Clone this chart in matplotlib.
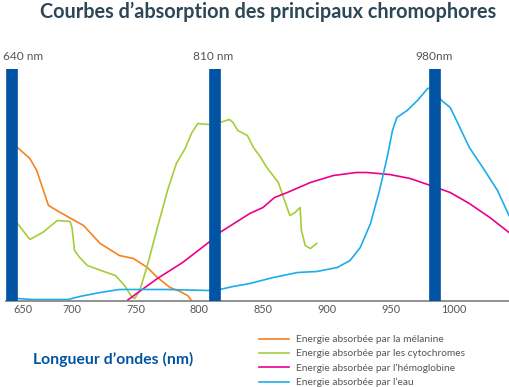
import numpy as np
import matplotlib
matplotlib.use('Agg')
from matplotlib import pyplot as plt

plt.rcParams['font.family'] = ['Lato', 'DejaVu Sans']

# longueurs d'onde (nm) et absorption (unites arbitraires)
melanine_nm = [645, 657, 664, 676, 688, 709, 722, 737, 748, 759, 767, 777, 785, 791, 794]
melanine_val = [153, 142, 130, 95, 88, 75, 57, 45, 42, 33, 23, 13, 9, 5, 0]

cyto_nm = [645, 657, 670, 685, 698, 700, 702, 706, 712, 727, 734, 741, 747, 749, 753, 759, 767,
           775, 782, 789, 794, 799, 806, 814, 822, 825, 829, 837, 842, 847, 853, 862, 866, 871,
           875, 879, 880, 883, 887, 892]
cyto_val = [77, 61, 68, 80, 79, 73, 50, 43, 35, 28, 25, 15, 3, 2, 10, 35, 73,
            110, 137, 152, 167, 177, 176, 178, 181, 178, 170, 165, 153, 145, 133, 118, 103, 85,
            88, 93, 70, 55, 52, 57]

hemo_nm = [743, 767, 787, 806, 814, 839, 850, 859, 869, 887, 905, 923, 931, 949, 963, 977,
           996, 1012, 1028, 1043]
hemo_val = [0, 22, 38, 58, 68, 87, 93, 103, 108, 118, 125, 128, 128, 126, 122, 115,
            108, 97, 83, 68]

eau_nm = [645, 660, 696, 706, 722, 737, 753, 775, 806, 814, 825, 839, 858, 877, 892, 908, 918,
          926, 934, 941, 947, 951, 954, 961, 968, 975, 978, 987, 996, 1002, 1012, 1023, 1034, 1043]
eau_val = [2, 1, 1, 4, 8, 11, 11, 11, 10, 11, 14, 17, 23, 28, 29, 33, 40,
           53, 77, 110, 143, 170, 183, 190, 200, 212, 213, 200, 193, 180, 153, 132, 110, 85]

lasers_nm = [640, 810, 980]
lasers_txt = ['640 nm', '810 nm', '980nm']
ticks_nm = [650, 700, 750, 800, 850, 900, 950, 1000]

# echelle de l'axe x (non lineaire sur le document d'origine)
cal_nm = [635, 640, 650, 700, 750, 800, 810, 850, 900, 950, 980, 1000, 1043]
cal_pos = [6, 12, 23, 72, 136, 199, 215, 263, 327, 391, 435, 454, 509]

def fwd(x):
    return np.interp(x, cal_nm, cal_pos)

def inv(p):
    return np.interp(p, cal_pos, cal_nm)

fig = plt.figure(figsize=(5.09, 3.87), dpi=100)
ax = fig.add_axes([6/509, 86.5/387, 503/509, 232/387])
ax.set_xscale('function', functions=(fwd, inv))

l1, = ax.plot(melanine_nm, melanine_val, color='#F5821F', lw=1.2, label='Energie absorbée par la mélanine')
l2, = ax.plot(cyto_nm, cyto_val, color='#A5CD39', lw=1.2, label='Energie absorbée par les cytochromes')
l3, = ax.plot(hemo_nm, hemo_val, color='#EC008C', lw=1.2, label="Energie absorbée par l’hémoglobine")
l4, = ax.plot(eau_nm, eau_val, color='#1CADE8', lw=1.2, label="Energie absorbée par l’eau")

ax.vlines(lasers_nm, 0, 232, colors='#0054A3', lw=8.4, zorder=5)
for x, t in zip(lasers_nm, lasers_txt):
    dx = 8.3 if x == 640 else -1
    ax.annotate(t, xy=(x, 232), xytext=(dx, 8.6), textcoords='offset points',
                ha='center', va='center', fontsize=8.6, color='#555555', annotation_clip=False)

ax.set_xlim(635, 1043)
ax.set_ylim(0, 232)
ax.set_xticks(ticks_nm)
ax.set_xticklabels([str(t) for t in ticks_nm])
ax.tick_params(axis='x', length=0, pad=2.5, labelsize=7.8, labelcolor='#555555')
ax.set_yticks([])
for s in ['top', 'left', 'right']:
    ax.spines[s].set_visible(False)
ax.spines['bottom'].set_color('#888888')
ax.spines['bottom'].set_linewidth(1.3)

fig.text(268/509, 1 - 12/387, 'Courbes d’absorption des principaux chromophores',
         ha='center', va='center', fontsize=14.3, fontweight='bold', color='#2E4756')
fig.text(33/509, 1 - 359/387, 'Longueur d’ondes (nm)', ha='left', va='center',
         fontsize=11.3, fontweight='bold', color='#0054A3')

fig.legend(handles=[l1, l2, l3, l4], loc='upper left', bbox_to_anchor=(259/509, 1 - 335/387),
           frameon=False, fontsize=7.3, handlelength=3.0, handletextpad=0.6,
           labelspacing=0.5, borderpad=0, borderaxespad=0, labelcolor='#555555')

fig.savefig('out.png', dpi=100)
